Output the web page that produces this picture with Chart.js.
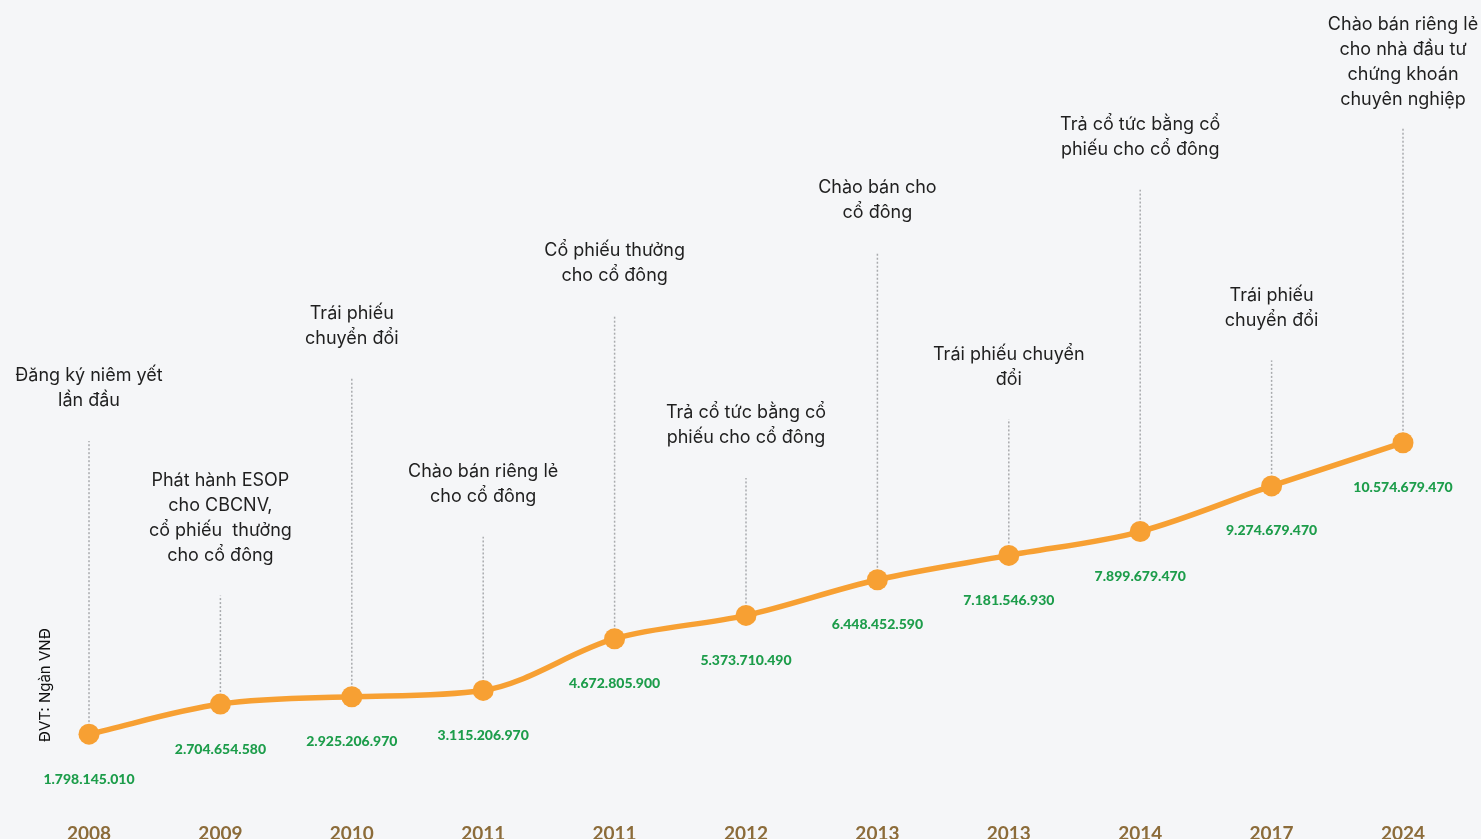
<!DOCTYPE html>
<html lang="vi">
<head>
<meta charset="utf-8">
<title>Lịch sử tăng vốn</title>
<script src="https://cdn.jsdelivr.net/npm/chart.js@4.4.1/dist/chart.umd.min.js"></script>
<style>
    html, body { margin: 0; padding: 0; background: #f5f6f8; }
    #wrap { width: 1481px; height: 839px; position: relative; }
</style>
</head>
<body>
<div id="wrap"><canvas id="chartCapital"></canvas></div>
<script>
const years = ['2008', '2009', '2010', '2011', '2011', '2012', '2013', '2013', '2014', '2017', '2024'];
const capital = [
    1798145010, 2704654580, 2925206970, 3115206970, 4672805900, 5373710490,
    6448452590, 7181546930, 7899679470, 9274679470, 10574679470,
];
const events = [
    ['Đăng ký niêm yết', 'lần đầu'],
    ['Phát hành ESOP', 'cho CBCNV,', 'cổ phiếu  thưởng', 'cho cổ đông'],
    ['Trái phiếu', 'chuyển đổi'],
    ['Chào bán riêng lẻ', 'cho cổ đông'],
    ['Cổ phiếu thưởng', 'cho cổ đông'],
    ['Trả cổ tức bằng cổ', 'phiếu cho cổ đông'],
    ['Chào bán cho', 'cổ đông'],
    ['Trái phiếu chuyển', 'đổi'],
    ['Trả cổ tức bằng cổ', 'phiếu cho cổ đông'],
    ['Trái phiếu', 'chuyển đổi'],
    ['Chào bán riêng lẻ', 'cho nhà đầu tư', 'chứng khoán', 'chuyên nghiệp'],
];
const unitLabel = 'ĐVT: Ngàn VNĐ';

const orange = '#f7a033';
const green = '#1d9d4b';
const textFont = '"Inter", "Noto Sans", sans-serif';

const fmt = (v) => String(v).replace(/\B(?=(\d{3})+(?!\d))/g, '.');

// dotted leaders + captions; captions sit on two rising diagonals (upper / lower row)
const timeline = {
    id: 'timeline',
    beforeDatasetsDraw(chart) {
        const { ctx, chartArea } = chart;
        const pts = chart.getDatasetMeta(0).data;
        const lh = 25;
        ctx.save();
        ctx.font = `400 18px ${textFont}`;
        ctx.textAlign = 'center';
        ctx.textBaseline = 'middle';
        pts.forEach((p, i) => {
            const lines = events[i] || [];
            const f = (p.x - chartArea.left) / (chartArea.right - chartArea.left);
            let top = i % 2 === 0 ? 441 - 314 * f : 625 - 294 * f;
            let lastY = top - 40;
            let firstY = lastY - (lines.length - 1) * lh;
            if (firstY < 25) {
                firstY = 25;
                lastY = firstY + (lines.length - 1) * lh;
                top = Math.max(top, lastY + 27);
            }
            ctx.strokeStyle = '#a9abae';
            ctx.lineWidth = 1.5;
            ctx.setLineDash([2, 2]);
            ctx.beginPath();
            ctx.moveTo(p.x, p.y);
            ctx.lineTo(p.x, top);
            ctx.stroke();
            ctx.fillStyle = '#1f1f1f';
            lines.forEach((t, k) => ctx.fillText(t, p.x, firstY + k * lh));
        });
        ctx.restore();
    },
    afterDatasetsDraw(chart) {
        const { ctx, chartArea } = chart;
        const pts = chart.getDatasetMeta(0).data;
        ctx.save();
        ctx.font = `900 14px "Lato", sans-serif`;
        ctx.fillStyle = green;
        ctx.textAlign = 'center';
        ctx.textBaseline = 'middle';
        pts.forEach((p, i) => ctx.fillText(fmt(capital[i]), p.x, p.y + 45));

        ctx.translate(chartArea.left - 44, 685);
        ctx.rotate(-Math.PI / 2);
        ctx.font = `400 15px ${textFont}`;
        ctx.fillStyle = '#111';
        ctx.fillText(unitLabel, 0, 0);
        ctx.restore();
    },
};

new Chart(document.getElementById('chartCapital'), {
    type: 'line',
    data: {
        labels: years,
        datasets: [
            {
                label: 'Vốn điều lệ',
                data: capital,
                borderColor: orange,
                backgroundColor: orange,
                borderWidth: 5.5,
                cubicInterpolationMode: 'monotone',
                pointRadius: 10.5,
                pointHoverRadius: 10.5,
                pointBorderWidth: 0,
                pointBackgroundColor: orange,
                clip: false,
            },
        ],
    },
    options: {
        responsive: true,
        maintainAspectRatio: false,
        animation: false,
        layout: { padding: { left: 89, right: 78, top: 0, bottom: 0 } },
        plugins: { legend: { display: false }, tooltip: { enabled: false } },
        scales: {
            x: {
                offset: false,
                grid: { display: false },
                border: { display: false },
                afterFit: (s) => { s.height -= 4; },
                ticks: {
                    color: '#8c6c3a',
                    padding: 0,
                    maxRotation: 0,
                    autoSkip: false,
                    font: { family: '"Lato", sans-serif', size: 19, weight: 'bold', lineHeight: 1 },
                },
            },
            y: {
                display: false,
                min: -666000000,
                max: 23590000000,
            },
        },
    },
    plugins: [timeline],
});
</script>
</body>
</html>
